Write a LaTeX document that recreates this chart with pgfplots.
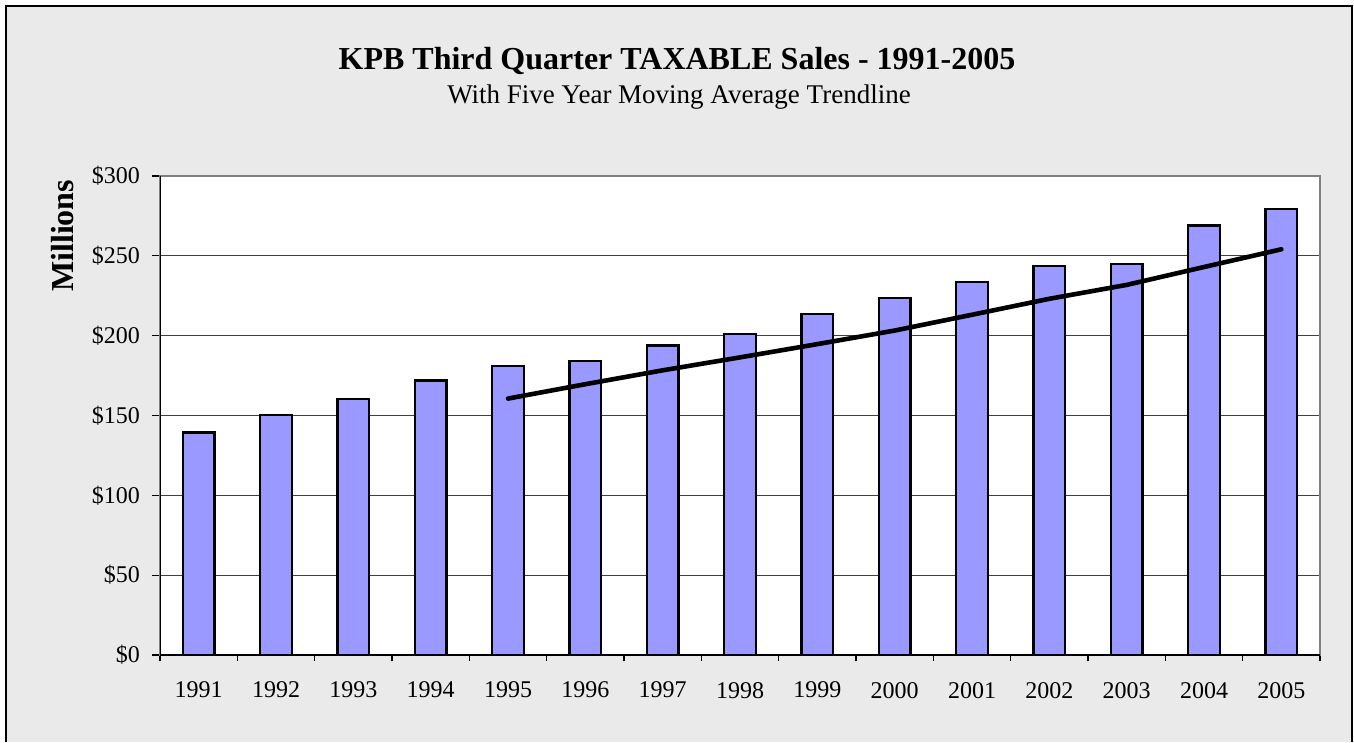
\documentclass[border=0pt]{standalone}
\usepackage{fontspec}
\setmainfont{Liberation Serif}
\usepackage{pgfplots}
\pgfplotsset{compat=1.18}

\definecolor{barblue}{HTML}{9999FF}
\definecolor{chartbg}{HTML}{EAEAEA}

\begin{document}
\begin{tikzpicture}
% page area and the grey chart frame (open at the bottom)
\fill[white] (0,0) rectangle (677pt,-371pt);
\fill[chartbg] (3pt,-3pt) rectangle (676pt,-371pt);
\draw[black, line width=0.9pt] (3pt,-371pt) -- (3pt,-3pt) -- (676pt,-3pt) -- (676pt,-371pt);

\node[anchor=base, font=\fontsize{16}{18}\selectfont\bfseries] at (338.5pt,-35pt)
  {KPB Third Quarter TAXABLE Sales - 1991-2005};
\node[anchor=base, font=\fontsize{13.5}{15}\selectfont] at (339.5pt,-51.7pt)
  {With Five Year Moving Average Trendline};

\begin{axis}[
  at={(80pt,-327.5pt)}, anchor=south west,
  scale only axis, width=580pt, height=239.5pt,
  xmin=0.5, xmax=15.5, ymin=0, ymax=300,
  axis background/.style={fill=white},
  axis line style={draw=gray, line width=0.8pt},
  tick pos=left, tick align=outside,
  xtick={1,...,15},
  xticklabels={1991,1992,1993,1994,1995,1996,1997,1998,1999,2000,2001,2002,2003,2004,2005},
  every major x tick/.style={draw=none},
  minor xtick={0.5,1.5,...,15.5},
  minor tick length=3pt,
  every minor x tick/.style={black, line width=0.6pt},
  xticklabel style={font=\fontsize{12}{14}\selectfont, yshift=-6pt},
  ytick={0,50,...,300},
  yticklabels={\$0,\$50,\$100,\$150,\$200,\$250,\$300},
  major tick length=4pt,
  ytick style={black, line width=0.6pt},
  yticklabel style={font=\fontsize{12}{14}\selectfont, xshift=-2.5pt},
  ymajorgrids, grid style={black!75, line width=0.5pt},
  ylabel={Millions},
  ylabel style={font=\fontsize{16}{18}\selectfont\bfseries, at={(axis description cs:-0.0836,0.875)}, anchor=center, rotate=0},
]
\addplot[ybar, bar shift=0pt, bar width=0.41, fill=barblue, draw=black, line width=1.2pt]
  coordinates {(1,139.4)(2,150.5)(3,160.3)(4,172.0)(5,181.0)(6,184.1)(7,193.9)(8,201.0)
               (9,213.5)(10,223.7)(11,233.6)(12,243.6)(13,244.8)(14,269.1)(15,279.3)};
\addplot[black, line width=2.3pt, line cap=round, line join=round, mark=none]
  coordinates {(5,160.6)(6,169.6)(7,178.3)(8,186.4)(9,194.7)(10,203.2)(11,213.1)
               (12,223.1)(13,231.8)(14,243.0)(15,254.1)};
\draw[black, line width=0.8pt] (rel axis cs:0,1) -- (rel axis cs:0,0) -- (rel axis cs:1,0);
\end{axis}
\end{tikzpicture}
\end{document}
